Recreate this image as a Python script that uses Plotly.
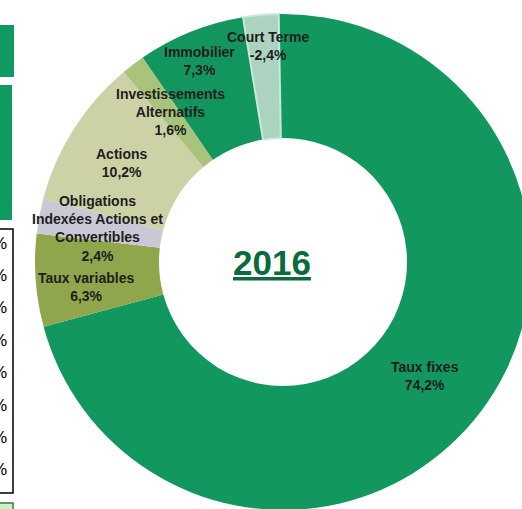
import plotly.graph_objects as go

# allocation 2016 (ordre horaire depuis midi)
categories = ["Taux fixes", "Taux variables", "Obligations Indexées Actions et Convertibles",
              "Actions", "Investissements Alternatifs", "Immobilier", "Court Terme"]
pourcentages = [74.2, 6.3, 2.4, 10.2, 1.6, 7.3, -2.4]
couleurs = ["#12985f", "#8fa64c", "#c9c9d5", "#ccd2a5", "#a8c47c", "#13955e", "#acd2c0"]
textes = ["Taux fixes<br>74,2%", "Taux variables<br>6,3%",
          "Obligations<br>Indexées Actions et<br>Convertibles<br>2,4%",
          "Actions<br>10,2%", "Investissements<br>Alternatifs<br>1,6%",
          "Immobilier<br>7,3%", "Court Terme<br>-2,4%"]
# position des étiquettes (px dans l'image)
pos_textes = [(425, 376), (86, 287), (97, 229), (122, 163), (170, 112), (199, 61), (268, 46)]

# la figure déborde un peu de la fenêtre (le donut est coupé à droite et en bas)
W, H = 532, 515


def px_x(x):
    return x / W


def px_y(y):
    return 1 - y / H


fig = go.Figure(go.Pie(
    labels=categories,
    values=[abs(v) for v in pourcentages],
    marker=dict(colors=couleurs,
                line=dict(color=["rgba(0,0,0,0)"] * 6 + ["#c4ead7"], width=[0] * 6 + [2])),
    hole=0.5,
    sort=False,
    direction="clockwise",
    rotation=-1,
    textinfo="none",
    hoverinfo="label+percent",
    showlegend=False,
    domain=dict(x=[px_x(35), px_x(531)], y=[px_y(511), px_y(13)]),
))

for t, (x, y) in zip(textes, pos_textes):
    fig.add_annotation(x=px_x(x), y=px_y(y), xref="paper", yref="paper", text="<b>" + t + "</b>",
                       showarrow=False, font=dict(family="Liberation Sans, Arial", size=14, color="#1e1e1e"),
                       xanchor="center", yanchor="middle")

fig.add_annotation(x=px_x(272), y=px_y(262), xref="paper", yref="paper",
                   text="<b><u>2016</u></b>", showarrow=False,
                   font=dict(family="Liberation Sans, Arial", size=35, color="#0b6b3c"))

# morceaux de la diapositive coupés à gauche
fig.add_shape(type="rect", xref="paper", yref="paper", x0=px_x(-5), x1=px_x(14), y0=px_y(77), y1=px_y(25),
              fillcolor="#0e9a61", line_width=0)
fig.add_shape(type="rect", xref="paper", yref="paper", x0=px_x(-5), x1=px_x(12), y0=px_y(220), y1=px_y(85),
              fillcolor="#0e9a61", line_width=0)
fig.add_shape(type="rect", xref="paper", yref="paper", x0=px_x(-5), x1=px_x(13), y0=px_y(493), y1=px_y(229),
              fillcolor="white", line=dict(color="black", width=1.5))
for i in range(8):
    fig.add_annotation(x=px_x(9), y=px_y(243 + 32.4 * i), xref="paper", yref="paper", text="%",
                       showarrow=False, xanchor="right", yanchor="middle",
                       font=dict(family="Liberation Sans, Arial", size=17, color="black"))
fig.add_shape(type="rect", xref="paper", yref="paper", x0=px_x(-5), x1=px_x(13), y0=px_y(520), y1=px_y(503),
              fillcolor="#ccf3c2", line=dict(color="#3a7a3a", width=1.5))

fig.update_layout(width=W, height=H, margin=dict(l=0, r=0, t=0, b=0),
                  paper_bgcolor="white", plot_bgcolor="white")
fig.write_html("out.html", config={"displayModeBar": False},
               post_script="document.body.style.margin='0';document.body.style.overflow='hidden';")
